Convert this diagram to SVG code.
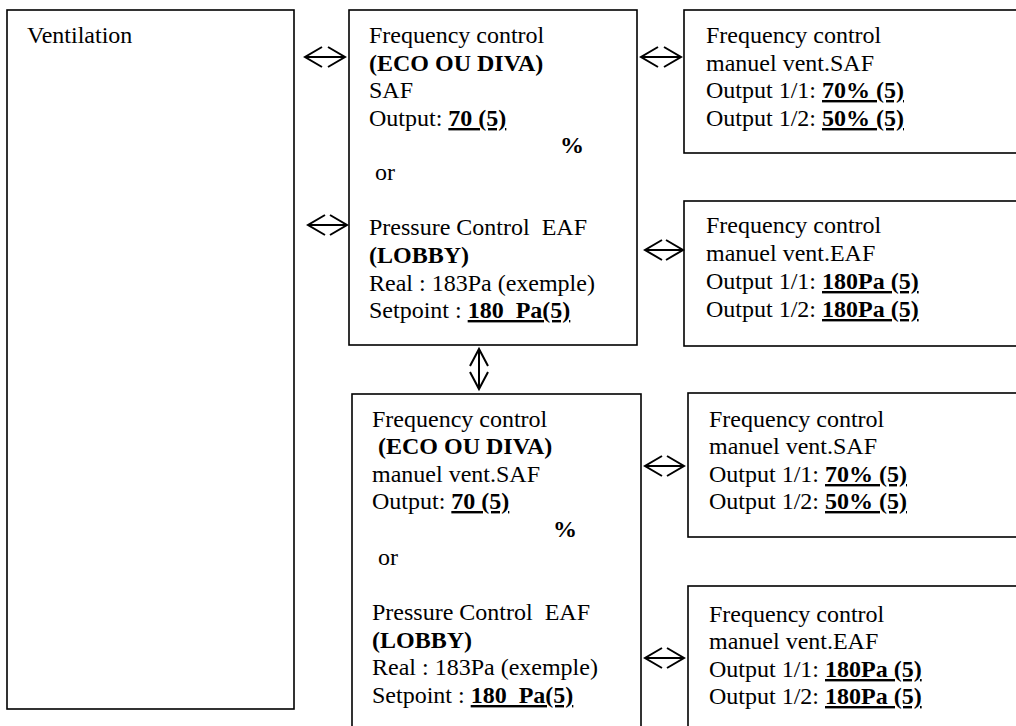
<svg xmlns="http://www.w3.org/2000/svg" width="1016" height="726" viewBox="0 0 1016 726">
<style>
.box{fill:#fff;stroke:#000;stroke-width:1.6}
.t{font-family:"Liberation Serif","Times New Roman",serif;font-size:24px;fill:#000;white-space:pre}
.b{font-weight:bold;text-decoration:underline}
.bo{font-weight:bold}
.arr{fill:none;stroke:#000;stroke-width:2}
</style>
<rect width="1016" height="726" fill="#fff"/>
<g id="ventilation">
<rect class="box" x="7" y="10" width="287" height="699"/>
<text class="t" x="27" y="43">Ventilation</text>
</g>
<g id="ctrl-top">
<rect class="box" x="349" y="10" width="288" height="335"/>
<text class="t" x="369" y="43">Frequency control</text>
<text class="t" x="369" y="71"><tspan class="bo">(ECO OU DIVA)</tspan></text>
<text class="t" x="369" y="98">SAF</text>
<text class="t" x="369" y="126">Output: <tspan class="b">70 (5)</tspan></text>
<text class="t bo" x="560" y="153">%</text>
<text class="t" x="369" y="180"> or</text>
<text class="t" x="369" y="235">Pressure Control  EAF</text>
<text class="t" x="369" y="263"><tspan class="bo">(LOBBY)</tspan></text>
<text class="t" x="369" y="291">Real : 183Pa (exemple)</text>
<text class="t" x="369" y="318">Setpoint : <tspan class="b">180  Pa(5)</tspan></text>
</g>
<g id="manual-saf-top">
<rect class="box" x="684" y="10" width="340" height="143"/>
<text class="t" x="706" y="43">Frequency control</text>
<text class="t" x="706" y="71">manuel vent.SAF</text>
<text class="t" x="706" y="98">Output 1/1: <tspan class="b">70% (5)</tspan></text>
<text class="t" x="706" y="126">Output 1/2: <tspan class="b">50% (5)</tspan></text>
</g>
<g id="manual-eaf-top">
<rect class="box" x="684" y="201" width="340" height="145"/>
<text class="t" x="706" y="233">Frequency control</text>
<text class="t" x="706" y="261">manuel vent.EAF</text>
<text class="t" x="706" y="289">Output 1/1: <tspan class="b">180Pa (5)</tspan></text>
<text class="t" x="706" y="317">Output 1/2: <tspan class="b">180Pa (5)</tspan></text>
</g>
<g id="ctrl-bottom">
<rect class="box" x="352" y="394" width="289" height="345"/>
<text class="t" x="372" y="427">Frequency control</text>
<text class="t" x="372" y="454"> <tspan class="bo">(ECO OU DIVA)</tspan></text>
<text class="t" x="372" y="482">manuel vent.SAF</text>
<text class="t" x="372" y="509">Output: <tspan class="b">70 (5)</tspan></text>
<text class="t bo" x="553" y="537">%</text>
<text class="t" x="372" y="565"> or</text>
<text class="t" x="372" y="620">Pressure Control  EAF</text>
<text class="t" x="372" y="648"><tspan class="bo">(LOBBY)</tspan></text>
<text class="t" x="372" y="675">Real : 183Pa (exemple)</text>
<text class="t" x="372" y="703">Setpoint : <tspan class="b">180  Pa(5)</tspan></text>
</g>
<g id="manual-saf-bottom">
<rect class="box" x="688" y="393" width="340" height="144"/>
<text class="t" x="709" y="427">Frequency control</text>
<text class="t" x="709" y="454">manuel vent.SAF</text>
<text class="t" x="709" y="482">Output 1/1: <tspan class="b">70% (5)</tspan></text>
<text class="t" x="709" y="509">Output 1/2: <tspan class="b">50% (5)</tspan></text>
</g>
<g id="manual-eaf-bottom">
<rect class="box" x="688" y="586" width="340" height="160"/>
<text class="t" x="709" y="622">Frequency control</text>
<text class="t" x="709" y="649">manuel vent.EAF</text>
<text class="t" x="709" y="677">Output 1/1: <tspan class="b">180Pa (5)</tspan></text>
<text class="t" x="709" y="704">Output 1/2: <tspan class="b">180Pa (5)</tspan></text>
</g>
<g id="connectors">
<path class="arr" d="M305,57 H345 M322,47 L305,57 L322,67 M328,47 L345,57 L328,67"/>
<path class="arr" d="M641,57 H681 M658,47 L641,57 L658,67 M664,47 L681,57 L664,67"/>
<path class="arr" d="M308,225 H347 M325,215 L308,225 L325,235 M330,215 L347,225 L330,235"/>
<path class="arr" d="M645,250 H683 M662,240 L645,250 L662,260 M666,240 L683,250 L666,260"/>
<path class="arr" d="M479,349 V389 M470,366 L479,349 L488,366 M470,372 L479,389 L488,372"/>
<path class="arr" d="M645,466 H684 M662,456 L645,466 L662,476 M667,456 L684,466 L667,476"/>
<path class="arr" d="M645,658 H684 M662,648 L645,658 L662,668 M667,648 L684,658 L667,668"/>
</g>
</svg>
